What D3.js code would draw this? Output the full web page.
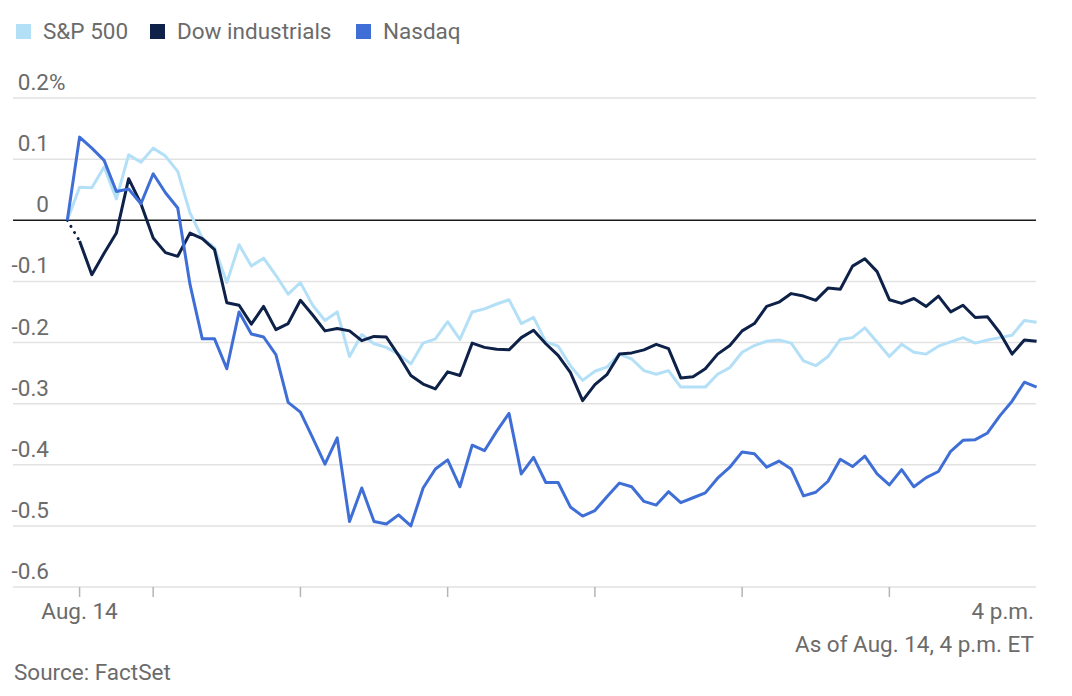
<!DOCTYPE html>
<html>
<head>
<meta charset="utf-8">
<script src="https://cdn.jsdelivr.net/npm/d3@7"></script>
<style>
  html, body { margin: 0; padding: 0; background: #fff; }
  svg { display: block; font-family: Roboto, "Noto Sans", sans-serif; }
</style>
</head>
<body>
<svg id="chart" width="1072" height="696"></svg>
<script>
// ---- Data (percent change, 5-minute intervals from 9:25 to 4 p.m.) ----
const startMinute = 9 * 60 + 25;   // first sample 9:25 a.m.
const stepMinutes = 5;

const sp500 = [0, 0.054, 0.053, 0.087, 0.035, 0.107, 0.095, 0.118, 0.105, 0.080,
  0.012, -0.029, -0.045, -0.102, -0.040, -0.075, -0.062, -0.090, -0.121, -0.102,
  -0.139, -0.164, -0.150, -0.223, -0.187, -0.202, -0.208, -0.219, -0.235, -0.201,
  -0.194, -0.166, -0.195, -0.150, -0.145, -0.137, -0.130, -0.169, -0.159, -0.199,
  -0.206, -0.238, -0.262, -0.247, -0.240, -0.219, -0.227, -0.246, -0.252, -0.246,
  -0.273, -0.273, -0.273, -0.252, -0.241, -0.216, -0.205, -0.198, -0.196, -0.201,
  -0.230, -0.238, -0.223, -0.195, -0.192, -0.176, -0.199, -0.223, -0.203, -0.216,
  -0.219, -0.206, -0.199, -0.192, -0.201, -0.196, -0.192, -0.188, -0.164, -0.167];

const dow = [0, -0.034, -0.089, -0.054, -0.021, 0.068, 0.027, -0.029, -0.053, -0.059,
  -0.021, -0.030, -0.048, -0.135, -0.139, -0.170, -0.141, -0.179, -0.169, -0.131,
  -0.155, -0.181, -0.177, -0.181, -0.197, -0.190, -0.191, -0.221, -0.254, -0.268,
  -0.276, -0.248, -0.254, -0.201, -0.208, -0.211, -0.212, -0.192, -0.180, -0.202,
  -0.221, -0.249, -0.295, -0.269, -0.252, -0.219, -0.217, -0.212, -0.203, -0.210,
  -0.258, -0.256, -0.243, -0.219, -0.205, -0.181, -0.169, -0.141, -0.134, -0.120,
  -0.124, -0.131, -0.111, -0.113, -0.075, -0.063, -0.084, -0.130, -0.136, -0.128,
  -0.141, -0.124, -0.150, -0.139, -0.159, -0.158, -0.184, -0.219, -0.196, -0.198];

const nasdaq = [0, 0.136, 0.118, 0.098, 0.047, 0.051, 0.027, 0.076, 0.045, 0.020,
  -0.105, -0.194, -0.194, -0.243, -0.150, -0.186, -0.191, -0.220, -0.298, -0.314,
  -0.356, -0.399, -0.356, -0.493, -0.438, -0.493, -0.497, -0.482, -0.500, -0.438,
  -0.407, -0.392, -0.436, -0.368, -0.377, -0.345, -0.316, -0.415, -0.388, -0.429,
  -0.429, -0.469, -0.484, -0.475, -0.452, -0.430, -0.436, -0.460, -0.466, -0.444,
  -0.462, -0.454, -0.446, -0.422, -0.404, -0.379, -0.382, -0.404, -0.394, -0.407,
  -0.451, -0.445, -0.427, -0.391, -0.403, -0.386, -0.415, -0.433, -0.408, -0.436,
  -0.421, -0.411, -0.378, -0.360, -0.359, -0.348, -0.320, -0.296, -0.265, -0.273];

const seriesNames = ["S&P 500", "Dow industrials", "Nasdaq"];
const seriesColors = ["#b4e0f7", "#0e2148", "#3f6fd6"];

const yTicks = [0.2, 0.1, 0, -0.1, -0.2, -0.3, -0.4, -0.5, -0.6];
const yTickLabels = ["0.2", "0.1", "0", "-0.1", "-0.2", "-0.3", "-0.4", "-0.5", "-0.6"];

const xTickMinutes = [570, 600, 660, 720, 780, 840, 900];   // 9:30 ... 3 p.m.
const xLabels = [{ m: 570, text: "Aug. 14", anchor: "middle" }, { m: 960, text: "4 p.m.", anchor: "end" }];

// ---- Layout ----
const svg = d3.select("#chart");
const left = 13, right = 1036;
const fs = 22.5;
const x = d3.scaleLinear().domain([startMinute, 960]).range([67.3, 1036.6]);
const y = d3.scaleLinear().domain([-0.6, 0.2]).range([587, 98]);
const textColor = "#6b6b6b";

// Gridlines
svg.append("g").selectAll("line").data(yTicks.filter(d => d !== 0)).join("line")
  .attr("x1", left).attr("x2", right)
  .attr("y1", d => y(d)).attr("y2", d => y(d))
  .attr("stroke", "#e2e2e2").attr("stroke-width", 1.5);

// Y labels (right-aligned, sitting above the gridline)
const yl = svg.append("g").attr("font-size", fs).attr("fill", textColor);
yl.selectAll("text").data(yTicks).join("text")
  .attr("x", 49).attr("y", d => y(d) - 8)
  .attr("text-anchor", "end")
  .text((d, i) => yTickLabels[i]);
yl.append("text").attr("x", 49).attr("y", y(0.2) - 8).text("%");

// X axis ticks
const xg = svg.append("g");
xg.selectAll("line").data(xTickMinutes).join("line")
  .attr("x1", d => x(d)).attr("x2", d => x(d))
  .attr("y1", y(-0.6)).attr("y2", y(-0.6) + 10)
  .attr("stroke", "#b5b5b5").attr("stroke-width", 1.5);
xg.selectAll("text").data(xLabels).join("text")
  .attr("x", d => d.anchor === "end" ? right - 2 : x(d.m))
  .attr("y", 619)
  .attr("text-anchor", d => d.anchor)
  .attr("font-size", fs).attr("fill", textColor)
  .text(d => d.text);

// Zero line
svg.append("line").attr("x1", left).attr("x2", right)
  .attr("y1", y(0)).attr("y2", y(0))
  .attr("stroke", "#1a1a1a").attr("stroke-width", 1.5);

// Lines
const timeOf = i => startMinute + i * stepMinutes;
const line = d3.line().x(d => x(d.t)).y(d => y(d.v)).defined(d => d.v != null);
const allSeries = [sp500, dow, nasdaq];

allSeries.forEach((vals, si) => {
  const pts = vals.map((v, i) => ({ t: timeOf(i), v }));
  if (si === 1) {
    // Dow: first interval drawn dotted
    svg.append("path").datum(pts.slice(0, 2)).attr("d", line)
      .attr("fill", "none").attr("stroke", seriesColors[si]).attr("stroke-width", 3)
      .attr("stroke-linecap", "round").attr("stroke-dasharray", "0.1 7");
    svg.append("path").datum(pts.slice(1)).attr("d", line)
      .attr("fill", "none").attr("stroke", seriesColors[si]).attr("stroke-width", 3)
      .attr("stroke-linejoin", "round");
  } else {
    svg.append("path").datum(pts).attr("d", line)
      .attr("fill", "none").attr("stroke", seriesColors[si]).attr("stroke-width", 3)
      .attr("stroke-linejoin", "round");
  }
});

// Legend
const legendX = [16, 150, 356];
const lg = svg.append("g");
seriesNames.forEach((name, i) => {
  lg.append("rect").attr("x", legendX[i]).attr("y", 24).attr("width", 15).attr("height", 15)
    .attr("fill", seriesColors[i]);
  lg.append("text").attr("x", legendX[i] + 27).attr("y", 39)
    .attr("font-size", fs).attr("fill", textColor).text(name);
});

// Notes
svg.append("text").attr("x", right - 2).attr("y", 652).attr("text-anchor", "end")
  .attr("font-size", fs).attr("fill", textColor).text("As of Aug. 14, 4 p.m. ET");
svg.append("text").attr("x", 14).attr("y", 680)
  .attr("font-size", fs).attr("fill", textColor).text("Source: FactSet");
</script>
</body>
</html>
